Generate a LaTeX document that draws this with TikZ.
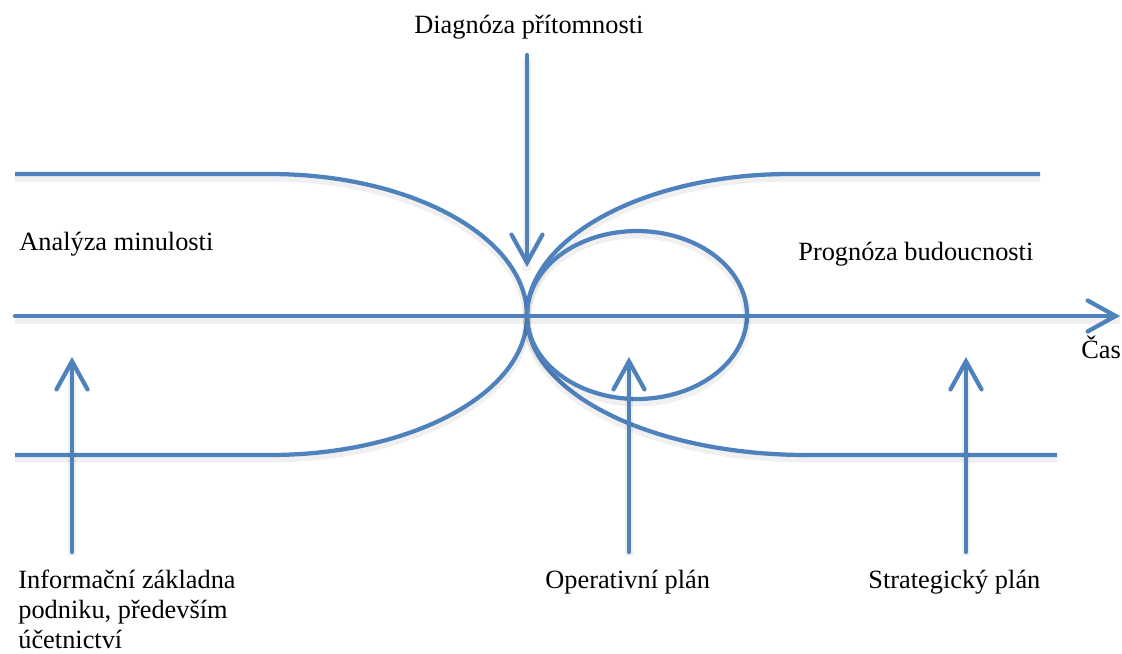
\documentclass[tikz,border=0pt]{standalone}
\usepackage{fontspec}
\setmainfont{Liberation Serif}
\usetikzlibrary{arrows.meta}
\definecolor{lineblue}{HTML}{4F81BD}
\tikzset{
  curve/.style={draw=lineblue, line width=0.085cm, line cap=butt,
    preaction={draw=black, -, opacity=0.06, line width=0.16cm, transform canvas={yshift=-0.07cm}}},
  pointer/.style={curve, line cap=round, -{Straight Barb[length=0.56cm, width=0.62cm, line cap=round]}},
  label/.style={inner sep=0pt, font=\fontsize{15}{17}\selectfont, anchor=base west, text=black},
}
\begin{document}
\begin{tikzpicture}[x=0.02cm, y=0.02cm]
\useasboundingbox (0,0) rectangle (1122,-653);
% text
\node[label] (diag) at (414,-33) {Diagnóza přítomnosti};
\node[label] (anal) at (19,-250) {Analýza minulosti};
\node[label] (prog) at (798,-260) {Prognóza budoucnosti};
\node[label] (cas) at (1081,-358) {Čas};
\node[label, align=left] (info) at (18,-648) {Informační základna\\podniku, především\\účetnictví};
\node[label] (oper) at (545,-588) {Operativní plán};
\node[label] (strat) at (868,-588) {Strategický plán};
% key points
\coordinate (axL) at (15,-316);
\coordinate (axR) at (1120,-316);
\coordinate (mid) at (527,-316);
\coordinate (tlA) at (15,-174);
\coordinate (tlB) at (270,-174);
\coordinate (blA) at (15,-455);
\coordinate (blB) at (270,-455);
\coordinate (trA) at (790,-174);
\coordinate (trB) at (1040,-174);
\coordinate (brA) at (807,-455);
\coordinate (brB) at (1057,-455);
\coordinate (dTop) at (527,-55);
\coordinate (dTip) at (527,-267);
\coordinate (u1B) at (72,-552);
\coordinate (u1T) at (72,-357);
\coordinate (u2B) at (629,-552);
\coordinate (u2T) at (629,-357);
\coordinate (u3B) at (966,-552);
\coordinate (u3T) at (966,-357);
% curves
\draw[curve] (tlA) -- (tlB) .. controls (412,-174) and (527,-237.6) .. (mid);
\draw[curve] (blA) -- (blB) .. controls (412,-455) and (527,-392.8) .. (mid);
\draw[curve] (mid) .. controls (527,-237.6) and (645,-174) .. (trA) -- (trB);
\draw[curve] (mid) .. controls (527,-392.8) and (652,-455) .. (brA) -- (brB);
\draw[curve] (637,-315) ellipse [x radius=2.2cm, y radius=1.68cm];
% axis
\draw[pointer] (axL) -- (axR);
% arrows
\draw[pointer] (dTop) -- (dTip);
\draw[pointer] (u1B) -- (u1T);
\draw[pointer] (u2B) -- (u2T);
\draw[pointer] (u3B) -- (u3T);
\end{tikzpicture}
\end{document}
